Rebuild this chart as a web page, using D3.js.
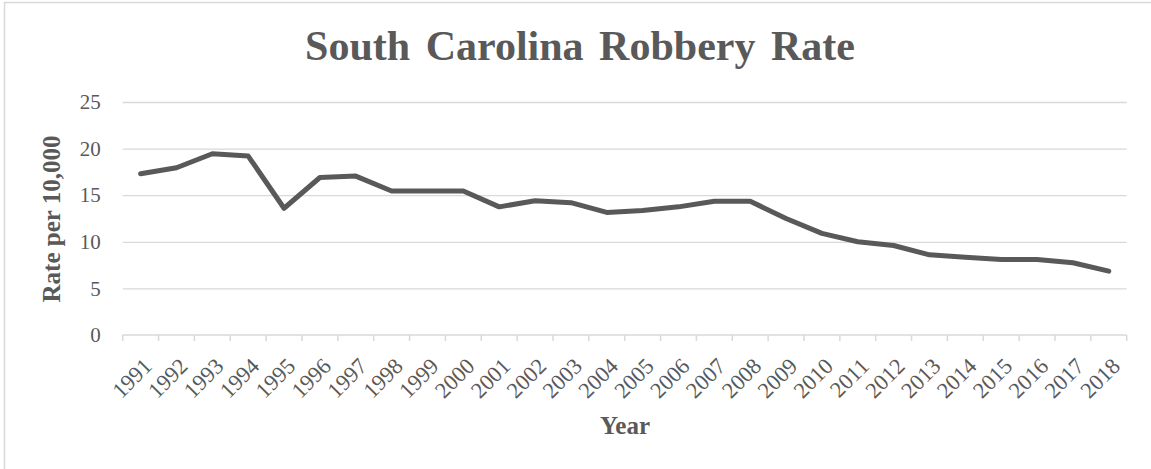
<!DOCTYPE html>
<html>
<head>
<meta charset="utf-8">
<script src="https://cdn.jsdelivr.net/npm/d3@7"></script>
<style>
  html, body { margin: 0; padding: 0; background: #fff; }
  svg { display: block; }
</style>
</head>
<body>
<script>
const years = ["1991","1992","1993","1994","1995","1996","1997","1998","1999","2000","2001","2002","2003","2004","2005","2006","2007","2008","2009","2010","2011","2012","2013","2014","2015","2016","2017","2018"];
const rates = [17.3,17.95,19.45,19.2,13.6,16.9,17.05,15.45,15.45,15.45,13.75,14.4,14.2,13.15,13.35,13.75,14.35,14.35,12.5,10.9,10.0,9.6,8.6,8.35,8.1,8.1,7.75,6.85];
const yTicks = [0,5,10,15,20,25];
const titleText = "South Carolina Robbery Rate";
const yLabel = "Rate per 10,000";
const xLabel = "Year";

const W = 1151, H = 469;
const margin = {left: 122.7, right: W - 1126.7, top: 102, bottom: H - 335};
const font = "'Liberation Serif', 'Times New Roman', serif";
const textColor = "#595959";

const svg = d3.select("body").append("svg").attr("width", W).attr("height", H);

svg.append("rect")
  .attr("x", 4.5).attr("y", 2.5)
  .attr("width", W + 10).attr("height", H + 10)
  .attr("fill", "#fff").attr("stroke", "#d9d9d9").attr("stroke-width", 1.5);

const x = d3.scaleBand().domain(years).range([margin.left, W - margin.right]).padding(0);
const y = d3.scaleLinear().domain([0, 25]).range([H - margin.bottom, margin.top]);

// gridlines
const grid = svg.append("g")
  .attr("transform", `translate(${margin.left},0)`)
  .call(d3.axisLeft(y).tickValues(yTicks.filter(d => d > 0)).tickSize(-(W - margin.right - margin.left)).tickFormat(""));
grid.select(".domain").remove();
grid.selectAll("line").attr("stroke", "#d9d9d9").attr("stroke-width", 1.3);

// y tick labels
const yAxis = svg.append("g")
  .attr("transform", `translate(${margin.left - 22},0)`)
  .call(d3.axisLeft(y).tickValues(yTicks).tickSize(0).tickPadding(0));
yAxis.select(".domain").remove();
yAxis.selectAll("text")
  .attr("font-family", font).attr("font-size", 21).attr("fill", textColor).attr("text-anchor", "end");

// x axis with boundary ticks
const xAxisG = svg.append("g").attr("transform", `translate(0,${y(0)})`);
xAxisG.append("line")
  .attr("x1", margin.left).attr("x2", W - margin.right)
  .attr("stroke", "#d9d9d9").attr("stroke-width", 1.5);
const edges = years.map(d => x(d)).concat([x(years[years.length-1]) + x.bandwidth()]);
xAxisG.selectAll("line.tick").data(edges).enter().append("line")
  .attr("class", "tick")
  .attr("x1", d => d).attr("x2", d => d).attr("y1", 0).attr("y2", 6)
  .attr("stroke", "#d9d9d9").attr("stroke-width", 1.5);
xAxisG.selectAll("text.lbl").data(years).enter().append("text")
  .attr("class", "lbl")
  .attr("transform", d => `translate(${x(d) + x.bandwidth()/2 + 7},${27}) rotate(-45)`)
  .attr("text-anchor", "end")
  .attr("dy", "0.35em")
  .attr("font-family", font).attr("font-size", 22.5).attr("fill", textColor)
  .text(d => d);

// line
const line = d3.line()
  .x((d, i) => x(years[i]) + x.bandwidth()/2)
  .y(d => y(d));
svg.append("path")
  .datum(rates)
  .attr("d", line)
  .attr("fill", "none")
  .attr("stroke", "#595959")
  .attr("stroke-width", 5)
  .attr("stroke-linejoin", "round")
  .attr("stroke-linecap", "round");

// title
svg.append("text")
  .attr("x", 580).attr("y", 60)
  .attr("text-anchor", "middle")
  .attr("font-family", font).attr("font-weight", "bold").attr("font-size", 42)
  .attr("word-spacing", 5)
  .attr("fill", textColor)
  .text(titleText);

// y label
svg.append("text")
  .attr("transform", `translate(60,219) rotate(-90)`)
  .attr("text-anchor", "middle")
  .attr("font-family", font).attr("font-weight", "bold").attr("font-size", 25)
  .attr("fill", textColor)
  .text(yLabel);

// x label
svg.append("text")
  .attr("x", 625).attr("y", 434)
  .attr("text-anchor", "middle")
  .attr("font-family", font).attr("font-weight", "bold").attr("font-size", 25)
  .attr("fill", textColor)
  .text(xLabel);
</script>
</body>
</html>
